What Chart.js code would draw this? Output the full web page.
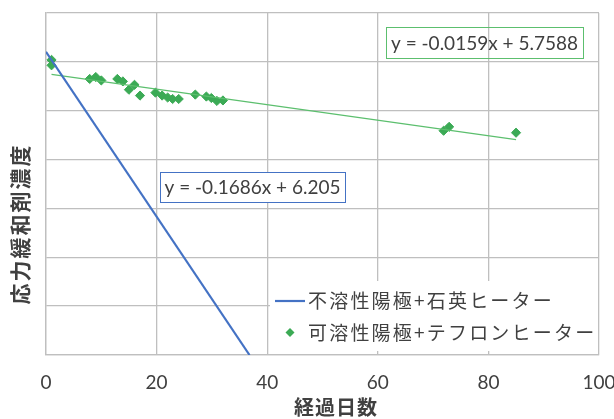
<!DOCTYPE html>
<html>
<head>
<meta charset="utf-8">
<script src="https://cdn.jsdelivr.net/npm/chart.js@4/dist/chart.umd.min.js"></script>
<style>
  html, body { margin: 0; padding: 0; background: #fff; }
  #wrap { width: 614px; height: 419px; }
</style>
</head>
<body>
<div id="wrap"><canvas id="c" width="614" height="419"></canvas></div>
<script>
// Elapsed days and stress-reliever concentration, soluble anode + Teflon heater
const daysTeflon = [1, 1, 7.9, 9, 10, 12.9, 13.9, 15, 16, 17, 19.8, 21, 22, 22.9, 24, 27, 29, 29.9, 30.9, 32, 71.9, 72.9, 85];
const concTeflon = [6.04, 5.93, 5.65, 5.69, 5.62, 5.65, 5.60, 5.43, 5.53, 5.31, 5.37, 5.31, 5.27, 5.24, 5.24, 5.33, 5.29, 5.26, 5.20, 5.21, 4.59, 4.67, 4.55];

// Linear fits (slope, intercept)
const quartzSlope = -0.1686, quartzIntercept = 6.205;
const teflonSlope = -0.0159, teflonIntercept = 5.7588;

const xTicks = [0, 20, 40, 60, 80, 100];
const seriesNames = ['不溶性陽極+石英ヒーター', '可溶性陽極+テフロンヒーター'];
const xTitle = '経過日数';
const yTitle = '応力緩和剤濃度';
const quartzEq = 'y = -0.1686x + 6.205';
const teflonEq = 'y = -0.0159x + 5.7588';

const BLUE = '#4472C4';
const GREEN = '#3BAA55';
const TREND = '#5CBF6E';
const GRID = '#BFBFBF';
const TEXT = '#404040';
const LATIN = "Lato, 'Noto Sans CJK JP', sans-serif";
const CJK = "'Noto Sans CJK JP', sans-serif";

const fit = (m, b, x) => ({ x: x, y: m * x + b });

// Quartz-heater line runs from day 0 until the fit reaches zero
const quartzLine = [fit(quartzSlope, quartzIntercept, 0),
                    fit(quartzSlope, quartzIntercept, -quartzIntercept / quartzSlope)];
const tMin = Math.min(...daysTeflon), tMax = Math.max(...daysTeflon);
const teflonTrend = [fit(teflonSlope, teflonIntercept, tMin), fit(teflonSlope, teflonIntercept, tMax)];
const teflonPoints = daysTeflon.map((d, i) => ({ x: d, y: concTeflon[i] }));

function eqBox(ctx, text, x, y, w, h, color, fill) {
  ctx.save();
  if (fill) { ctx.fillStyle = '#fff'; ctx.fillRect(x, y, w, h); }
  ctx.strokeStyle = color; ctx.lineWidth = 1;
  ctx.strokeRect(x + 0.5, y + 0.5, w, h);
  ctx.fillStyle = TEXT;
  ctx.font = '19px ' + LATIN;
  ctx.textAlign = 'center'; ctx.textBaseline = 'middle';
  ctx.fillText(text, x + w / 2, y + h / 2 + 1);
  ctx.restore();
}

const overlay = {
  id: 'overlay',
  afterDatasetsDraw(chart) {
    const ctx = chart.ctx;
    const a = chart.chartArea;

    // trend equations
    eqBox(ctx, quartzEq, 160, 172, 185, 30, BLUE, true);
    eqBox(ctx, teflonEq, 386, 27, 197, 31, TREND, false);

    // legend inside the plot
    ctx.save();
    ctx.fillStyle = '#fff';
    ctx.fillRect(270, 281, a.right - 271, 70);
    ctx.strokeStyle = BLUE; ctx.lineWidth = 2.2;
    ctx.beginPath(); ctx.moveTo(275, 301); ctx.lineTo(305, 301); ctx.stroke();
    ctx.fillStyle = GREEN;
    ctx.beginPath();
    ctx.moveTo(290, 328); ctx.lineTo(294.5, 332.5); ctx.lineTo(290, 337); ctx.lineTo(285.5, 332.5);
    ctx.closePath(); ctx.fill();
    ctx.fillStyle = TEXT;
    ctx.font = '19px ' + CJK;
    ctx.letterSpacing = '2.2px';
    ctx.textAlign = 'left'; ctx.textBaseline = 'middle';
    ctx.fillText(seriesNames[0], 308, 301);
    ctx.fillText(seriesNames[1], 308, 333);
    ctx.restore();

    // axis titles
    ctx.save();
    ctx.fillStyle = TEXT;
    ctx.font = 'bold 20px ' + CJK;
    ctx.letterSpacing = '1px';
    ctx.textAlign = 'center'; ctx.textBaseline = 'middle';
    ctx.fillText(xTitle, 336, 407);
    ctx.translate(20, 224);
    ctx.rotate(-Math.PI / 2);
    ctx.font = 'bold 21px ' + CJK;
    ctx.letterSpacing = '2px';
    ctx.fillText(yTitle, 0, 0);
    ctx.restore();
  }
};

new Chart(document.getElementById('c'), {
  type: 'scatter',
  data: {
    datasets: [
      { label: seriesNames[0], data: quartzLine, showLine: true, borderColor: BLUE, borderWidth: 2.2,
        pointRadius: 0, fill: false },
      { label: 'trend', data: teflonTrend, showLine: true, borderColor: TREND, borderWidth: 1.2,
        pointRadius: 0, fill: false },
      { label: seriesNames[1], data: teflonPoints, pointStyle: 'rectRot', pointRadius: 4.6,
        backgroundColor: GREEN, borderColor: GREEN, borderWidth: 1 }
    ]
  },
  options: {
    responsive: false,
    animation: false,
    devicePixelRatio: 1,
    layout: { padding: { top: 13, right: 15, left: 0, bottom: 0 } },
    plugins: { legend: { display: false }, tooltip: { enabled: false } },
    scales: {
      x: {
        type: 'linear', min: 0, max: 100,
        afterBuildTicks(s) { s.ticks = xTicks.map(v => ({ value: v })); },
        ticks: { color: TEXT, font: { family: LATIN, size: 19 }, padding: 16, maxRotation: 0 },
        grid: { color: GRID, lineWidth: 1.3, drawTicks: false },
        border: { color: GRID, width: 1.3 },
        afterFit(s) { s.height = 64; s.paddingLeft = 0; s.paddingRight = 0; }
      },
      y: {
        type: 'linear', min: 0, max: 7,
        ticks: { stepSize: 1, display: false },
        grid: { color: GRID, lineWidth: 1.3, drawTicks: false },
        border: { color: GRID, width: 1.3 },
        afterFit(s) { s.width = 46; s.paddingTop = 0; s.paddingBottom = 0; }
      }
    }
  },
  plugins: [overlay]
});
</script>
</body>
</html>
